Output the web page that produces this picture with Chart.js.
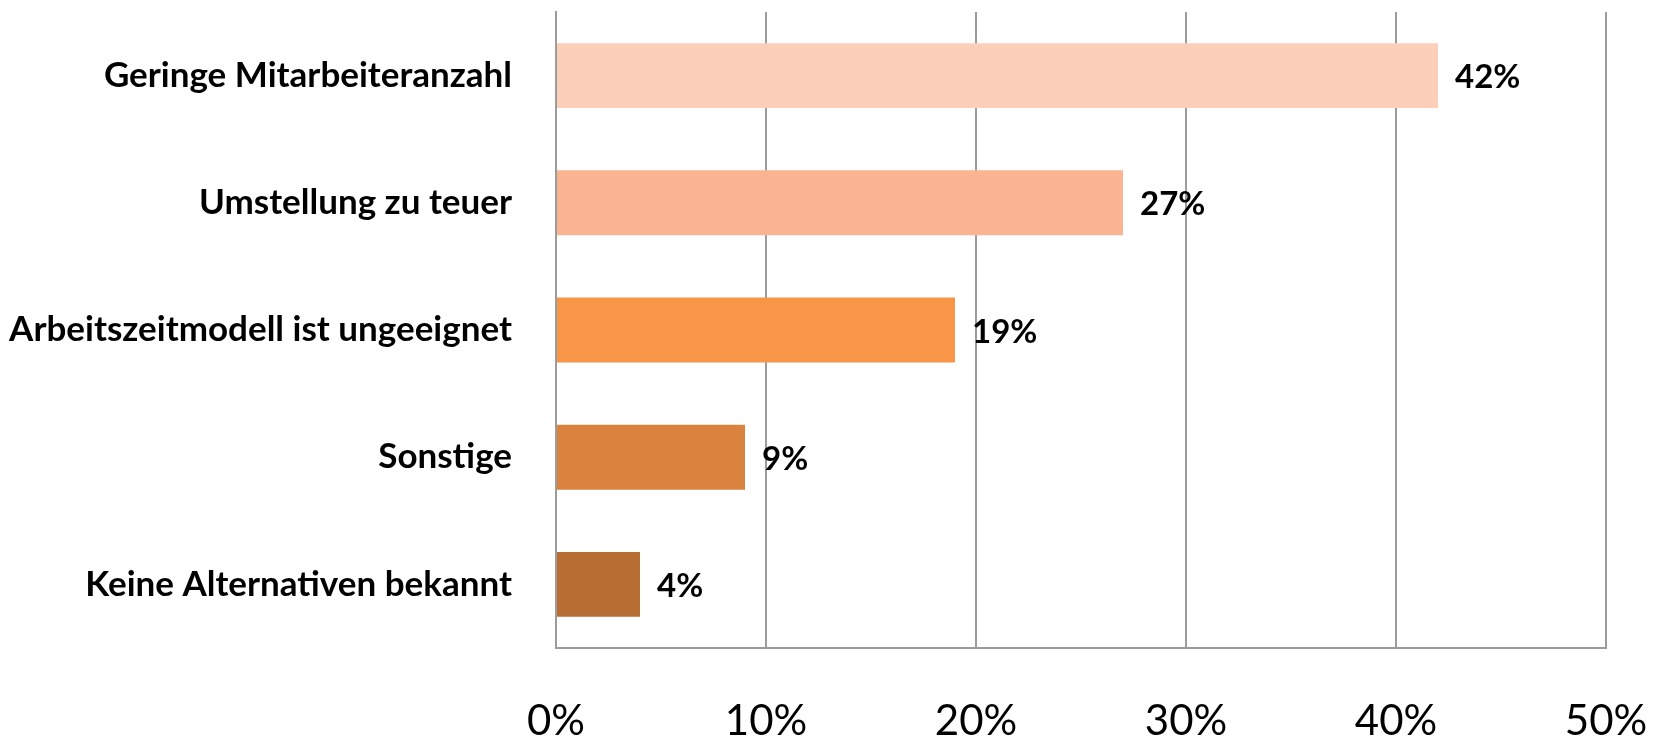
<!DOCTYPE html>
<html>
<head>
<meta charset="utf-8">
<script src="https://cdn.jsdelivr.net/npm/chart.js@4"></script>
<style>
  html, body { margin: 0; padding: 0; background: #fff; }
  #wrap { width: 1654px; height: 743px; }
</style>
</head>
<body>
<div id="wrap"><canvas id="chart" width="1654" height="743"></canvas></div>
<script>
// Gründe (Anteil der Nennungen in %)
const categories = [
  'Geringe Mitarbeiteranzahl',
  'Umstellung zu teuer',
  'Arbeitszeitmodell ist ungeeignet',
  'Sonstige',
  'Keine Alternativen bekannt'
];
const values = [42, 27, 19, 9, 4];
const barColors = ['#FBCFBA', '#F9B592', '#F79646', '#D9833E', '#B86E33'];
const xTicks = [0, 10, 20, 30, 40, 50];

const FONT = 'Lato, "Open Sans", sans-serif';
const gridColor = '#9c9c9c';

// Werte rechts neben den Balken
const valueLabels = {
  id: 'valueLabels',
  afterDatasetsDraw(chart) {
    const ctx = chart.ctx;
    const meta = chart.getDatasetMeta(0);
    ctx.save();
    ctx.font = 'bold 33px ' + FONT;
    ctx.fillStyle = '#000';
    ctx.textAlign = 'left';
    ctx.textBaseline = 'middle';
    meta.data.forEach((bar, i) => {
      ctx.fillText(values[i] + '%', bar.x + 17, bar.y + 2);
    });
    ctx.restore();
  }
};

const chart = new Chart(document.getElementById('chart'), {
  type: 'bar',
  data: {
    labels: categories,
    datasets: [{
      data: values,
      backgroundColor: barColors,
      borderWidth: 0,
      barPercentage: 0.51,
      categoryPercentage: 1.0
    }]
  },
  options: {
    indexAxis: 'y',
    responsive: false,
    animation: false,
    layout: { padding: { top: 12, right: 48, left: 0, bottom: 0 } },
    plugins: {
      legend: { display: false },
      tooltip: { enabled: false }
    },
    scales: {
      x: {
        min: 0,
        max: 50,
        afterBuildTicks(scale) {
          scale.ticks = xTicks.map(v => ({ value: v }));
        },
        afterFit(scale) {
          scale.height = 95;
          scale.paddingLeft = 0;
          scale.paddingRight = 0;
        },
        grid: {
          color: gridColor,
          lineWidth: 2,
          drawTicks: false
        },
        border: { display: true, color: gridColor, width: 2 },
        ticks: {
          padding: 48,
          color: '#000',
          font: { family: FONT, size: 42 },
          callback: v => v + '%'
        }
      },
      y: {
        afterFit(scale) {
          scale.width = 556;
          scale.paddingTop = 0;
          scale.paddingBottom = 0;
        },
        grid: { display: false, drawTicks: false },
        border: { display: true, color: gridColor, width: 2 },
        ticks: {
          padding: 44,
          color: '#000',
          font: { family: FONT, size: 35, weight: 'bold' }
        }
      }
    }
  },
  plugins: [valueLabels]
});
</script>
</body>
</html>
